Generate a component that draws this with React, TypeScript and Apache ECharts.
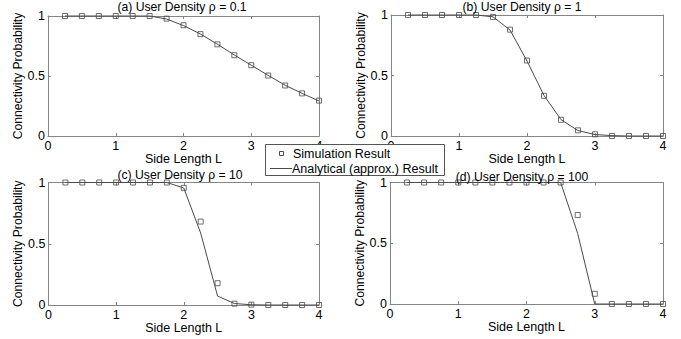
import React, { useEffect, useRef } from "react";
import * as echarts from "echarts";

// Side length L (x values of the simulated / analytical points)
const sideLength = [0.25, 0.5, 0.75, 1, 1.25, 1.5, 1.75, 2, 2.25, 2.5, 2.75, 3, 3.25, 3.5, 3.75, 4];

// (a) rho = 0.1
const simA = [1, 1, 1, 1, 1, 1, 0.978, 0.923, 0.849, 0.764, 0.673, 0.59, 0.504, 0.421, 0.355, 0.295];
const anaA = [1, 1, 1, 1, 1, 1, 0.975, 0.92, 0.85, 0.765, 0.675, 0.59, 0.505, 0.423, 0.355, 0.292];
// (b) rho = 1
const simB = [1, 1, 1, 1, 1, 0.984, 0.879, 0.624, 0.332, 0.134, 0.047, 0.014, 0, 0, 0, 0];
const anaB = [1, 1, 1, 1, 1, 0.985, 0.876, 0.62, 0.335, 0.135, 0.045, 0.012, 0.003, 0, 0, 0];
// (c) rho = 10
const simC = [1, 1, 1, 1, 1, 1, 1, 0.956, 0.681, 0.178, 0.011, 0.003, 0, 0, 0, 0];
const anaC = [1, 1, 1, 1, 1, 1, 1, 0.955, 0.587, 0.073, 0.012, 0.002, 0, 0, 0, 0];
// (d) rho = 100
const simD = [1, 1, 1, 1, 1, 1, 1, 1, 1, 1, 0.732, 0.084, 0, 0, 0, 0];
const anaD = [1, 1, 1, 1, 1, 1, 1, 1, 1, 1, 0.58, 0, 0, 0, 0, 0];

const panelTitles = [
  "(a) User Density ρ = 0.1",
  "(b) User Density ρ = 1",
  "(c) User Density ρ = 10",
  "(d) User Density ρ = 100",
];
const xAxisName = "Side Length L";
const yAxisName = "Connectivity Probability";
const simName = "Simulation Result";
const anaName = "Analytical (approx.) Result";

const simSets = [simA, simB, simC, simD];
const anaSets = [anaA, anaB, anaC, anaD];

const FONT = "'Liberation Sans', Arial, sans-serif";
const AXIS_COLOR = "#858585";
const DATA_COLOR = "#4a4a4a";

// layout (pixels)
const grids = [
  { left: 48, top: 16, width: 271, height: 120 },
  { left: 391, top: 15, width: 272, height: 121 },
  { left: 48.5, top: 182.5, width: 270.5, height: 122.5 },
  { left: 390, top: 182.5, width: 273, height: 121.5 },
];
const titlePos = [
  { x: 182, y: 1 },
  { x: 522, y: 1 },
  { x: 180, y: 169 },
  { x: 522, y: 170.5 },
];
const xNameGaps = [9, 10, 7.5, 11.5];

export default function App() {
  const ref = useRef<HTMLDivElement>(null);

  useEffect(() => {
    if (!ref.current) return;
    document.body.style.margin = "0";
    const chart = echarts.init(ref.current, null, { renderer: "svg" });

    const xAxes: any[] = [];
    const yAxes: any[] = [];
    const series: any[] = [];

    grids.forEach((g, i) => {
      const common = {
        gridIndex: i,
        type: "value",
        splitLine: { show: false },
        axisLine: { show: true, onZero: false, lineStyle: { color: AXIS_COLOR, width: 1 } },
        axisTick: { show: true, inside: true, length: 3, lineStyle: { color: AXIS_COLOR } },
      };
      xAxes.push({
        ...common,
        position: "bottom",
        min: 0,
        max: 4,
        interval: 1,
        name: xAxisName,
        nameLocation: "middle",
        nameGap: xNameGaps[i],
        nameTextStyle: { color: "#000", fontSize: 12.5, fontFamily: FONT },
        axisLabel: { margin: 3, color: "#000", fontSize: 12.5, fontFamily: FONT },
      });
      xAxes.push({
        ...common,
        position: "top",
        min: 0,
        max: 4,
        interval: 1,
        axisLabel: { show: false },
      });
      yAxes.push({
        ...common,
        position: "left",
        min: 0,
        max: 1,
        interval: 0.5,
        name: yAxisName,
        nameLocation: "middle",
        nameGap: 19,
        nameTextStyle: { color: "#000", fontSize: 12.2, fontFamily: FONT },
        axisLabel: { margin: 3, color: "#000", fontSize: 12.5, fontFamily: FONT },
      });
      yAxes.push({
        ...common,
        position: "right",
        min: 0,
        max: 1,
        interval: 0.5,
        axisLabel: { show: false },
      });

      series.push({
        type: "line",
        name: anaName,
        xAxisIndex: 2 * i,
        yAxisIndex: 2 * i,
        data: sideLength.map((x, k) => [x, anaSets[i][k]]),
        symbol: "none",
        clip: false,
        lineStyle: { color: DATA_COLOR, width: 1 },
        z: 3,
      });
      series.push({
        type: "scatter",
        name: simName,
        xAxisIndex: 2 * i,
        yAxisIndex: 2 * i,
        data: sideLength.map((x, k) => [x, simSets[i][k]]),
        symbol: "rect",
        symbolSize: 5,
        clip: false,
        itemStyle: { color: "rgba(255,255,255,0)", borderColor: DATA_COLOR, borderWidth: 1 },
        z: 4,
      });
    });

    const option: any = {
      animation: false,
      backgroundColor: "#fff",
      title: panelTitles.map((t, i) => ({
        text: t,
        left: titlePos[i].x,
        top: titlePos[i].y,
        textAlign: "center",
        padding: 0,
        textStyle: { color: "#000", fontSize: 12.2, fontWeight: "normal", fontFamily: FONT },
      })),
      grid: grids.map((g) => ({ ...g, containLabel: false })),
      xAxis: xAxes,
      yAxis: yAxes,
      series,
      graphic: [
        {
          type: "rect",
          z: 100,
          shape: { x: 265.5, y: 144.5, width: 179, height: 31 },
          style: { fill: "#fff", stroke: "#555", lineWidth: 1 },
        },
        {
          type: "rect",
          z: 101,
          shape: { x: 279.5, y: 151.5, width: 4, height: 4 },
          style: { fill: "none", stroke: DATA_COLOR, lineWidth: 1 },
        },
        {
          type: "text",
          z: 101,
          x: 293,
          y: 154,
          style: {
            text: simName,
            fill: "#000",
            font: `12.5px ${FONT}`,
            textVerticalAlign: "middle",
            verticalAlign: "middle",
          },
        },
        {
          type: "line",
          z: 101,
          shape: { x1: 270, y1: 168.5, x2: 292, y2: 168.5 },
          style: { stroke: DATA_COLOR, lineWidth: 1 },
        },
        {
          type: "text",
          z: 101,
          x: 292,
          y: 168.5,
          style: {
            text: anaName,
            fill: "#000",
            font: `12.5px ${FONT}`,
            textVerticalAlign: "middle",
            verticalAlign: "middle",
          },
        },
      ],
    };

    chart.setOption(option);
    return () => chart.dispose();
  }, []);

  return (
    <div
      ref={ref}
      style={{ position: "absolute", left: 0, top: 0, width: 681, height: 339, background: "#fff" }}
    />
  );
}
